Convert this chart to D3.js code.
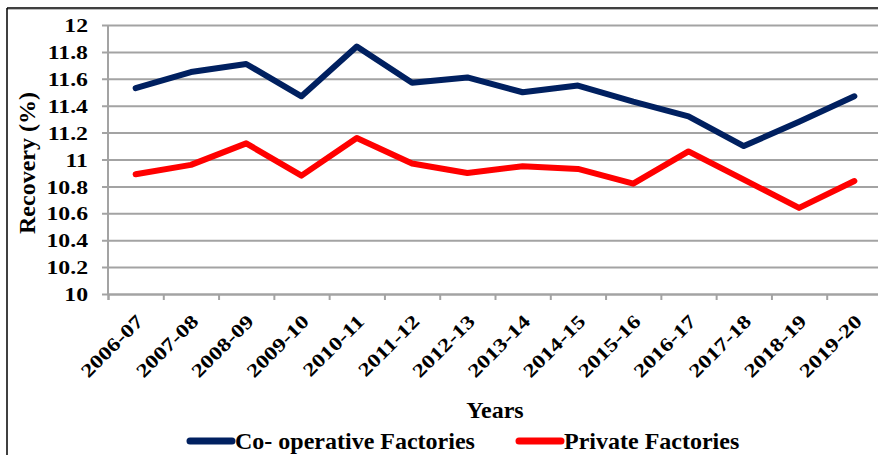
<!DOCTYPE html>
<html>
<head>
<meta charset="utf-8">
<script src="https://cdn.jsdelivr.net/npm/d3@7/dist/d3.min.js"></script>
<style>
  html, body { margin: 0; padding: 0; background: #fff; }
  svg { display: block; }
  svg text { font-family: "Liberation Serif", "DejaVu Serif", serif !important; font-weight: bold; fill: #000; }
</style>
</head>
<body>
<svg id="chart" width="878" height="455"></svg>
<script>
const categories = ["2006-07","2007-08","2008-09","2009-10","2010-11","2011-12","2012-13",
                    "2013-14","2014-15","2015-16","2016-17","2017-18","2018-19","2019-20"];
const cooperative = [11.53, 11.65, 11.71, 11.47, 11.84, 11.57, 11.61, 11.50, 11.55, 11.43, 11.32, 11.10, 11.28, 11.47];
const privateF    = [10.89, 10.96, 11.12, 10.88, 11.16, 10.97, 10.90, 10.95, 10.93, 10.82, 11.06, 10.85, 10.64, 10.84];
const yTicks = [10, 10.2, 10.4, 10.6, 10.8, 11, 11.2, 11.4, 11.6, 11.8, 12];
const seriesNames = ["Co- operative Factories", "Private Factories"];
const seriesColors = ["#002060", "#ff0000"];

const FONT = '"Liberation Serif", "DejaVu Serif", serif';
const svg = d3.select("#chart");
const pL = 108, pR = 882, pT = 25, pB = 294;

// border
svg.append("line").attr("x1", 7).attr("x2", 878).attr("y1", 8).attr("y2", 8)
   .attr("stroke", "#000").attr("stroke-width", 1.5);
svg.append("line").attr("x1", 7).attr("x2", 878).attr("y1", 9.5).attr("y2", 9.5)
   .attr("stroke", "#bbb").attr("stroke-width", 1);
svg.append("line").attr("x1", 7).attr("x2", 7).attr("y1", 8).attr("y2", 455)
   .attr("stroke", "#000").attr("stroke-width", 1.5);

const x = d3.scaleBand().domain(categories).range([pL, pR]);
const xi = d3.scaleLinear().domain([0, categories.length]).range([pL, pR]);
const y = d3.scaleLinear().domain([10, 12]).range([pB, pT]);

const gridColor = "#a3a3a3";

// Y axis with gridlines
const yAxis = svg.append("g").attr("transform", `translate(${pL},0)`)
  .call(d3.axisLeft(y).tickValues(yTicks).tickSize(-(pR - pL)).tickFormat(d3.format("")));
yAxis.attr("font-family", FONT);
yAxis.select(".domain").remove();
yAxis.selectAll(".tick line").attr("x1", -6).attr("x2", pR - pL)
  .attr("stroke", gridColor).attr("stroke-width", 2);
yAxis.selectAll(".tick text").remove();
yAxis.selectAll(".tick").append("text")
  .attr("text-anchor", "end")
  .attr("dy", "0.35em")
  .attr("transform", "translate(-20,0) scale(1.25,1)")
  .style("font-size", "19px")
  .text(d => d3.format("")(d));

// vertical axis line
svg.append("line").attr("x1", pL).attr("x2", pL).attr("y1", pT).attr("y2", pB + 1)
  .attr("stroke", gridColor).attr("stroke-width", 2);

// X axis ticks (between categories)
const xAxis = svg.append("g").attr("transform", `translate(0,${pB})`)
  .call(d3.axisBottom(xi).tickValues(d3.range(0, categories.length + 1)).tickSize(6).tickFormat(""));
xAxis.select(".domain").attr("stroke", gridColor).attr("stroke-width", 2);
xAxis.selectAll(".tick line").attr("stroke", gridColor).attr("stroke-width", 2);

// X labels via band axis
const xLab = svg.append("g").attr("transform", `translate(0,${pB})`)
  .call(d3.axisBottom(x).tickSize(0).tickFormat(d => d));
xLab.attr("font-family", FONT);
xLab.select(".domain").remove();
xLab.selectAll(".tick text")
  .attr("x", null).attr("y", null).attr("dy", "0.35em")
  .attr("text-anchor", "end")
  .attr("transform", "translate(4,24) rotate(-45) scale(1.25,1)")
  .style("font-size", "19px");

// lines
const line = d3.line().x((d, i) => x(categories[i]) + x.bandwidth() / 2).y(d => y(d));
[cooperative, privateF].forEach((s, k) => {
  svg.append("path").datum(s).attr("d", line)
    .attr("fill", "none").attr("stroke", seriesColors[k]).attr("stroke-width", 6)
    .attr("stroke-linejoin", "round").attr("stroke-linecap", "round");
});

// axis titles
svg.append("text").attr("text-anchor", "middle")
  .attr("transform", `translate(35,163) rotate(-90)`)
  .style("font-size", "24px").text("Recovery (%)");
svg.append("text").attr("text-anchor", "middle").attr("x", 495).attr("y", 418)
  .style("font-size", "24px").text("Years");

// legend
const legendX = [188, 517];
const leg = svg.append("g");
seriesNames.forEach((n, k) => {
  const g = leg.append("g").attr("transform", `translate(${legendX[k]},441)`);
  g.append("line").attr("x1", 2).attr("x2", 44).attr("y1", 0).attr("y2", 0)
    .attr("stroke", seriesColors[k]).attr("stroke-width", 7).attr("stroke-linecap", "round");
  g.append("text").attr("x", 47).attr("y", 8).style("font-size", "24px").text(n);
});
</script>
</body>
</html>
